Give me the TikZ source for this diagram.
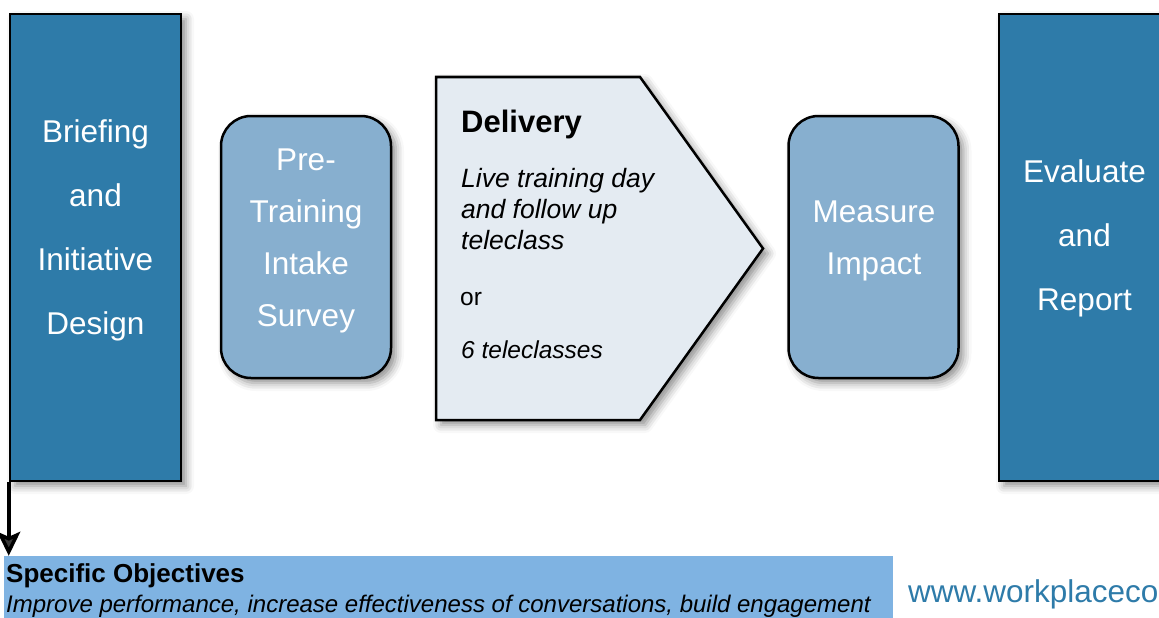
\documentclass[tikz,border=0pt]{standalone}
\usepackage{fontspec}
\setmainfont{Liberation Sans}
\usetikzlibrary{shadows.blur,arrows.meta}
\definecolor{darkbox}{HTML}{2E7BA9}
\definecolor{midbox}{HTML}{87AFCF}
\definecolor{lightbox}{HTML}{E4EBF2}
\definecolor{objbar}{HTML}{7FB3E2}
\definecolor{urlcol}{HTML}{2E7BA9}
\tikzset{
  shad/.style={blur shadow={shadow xshift=5pt, shadow yshift=-5pt, shadow blur radius=8pt, shadow opacity=45}},
  bigbox/.style={draw=black, line width=2.5pt, fill=darkbox, shad, minimum width=171pt, minimum height=467pt, inner sep=0pt},
  roundbox/.style={draw=black, line width=2.5pt, fill=midbox, shad, rounded corners=30pt, minimum width=170pt, minimum height=262pt, inner sep=0pt},
  boxtext/.style={text=white, inner sep=0pt, anchor=base, font=\fontsize{31.5}{36}\selectfont},
  deltext/.style={text=black, inner sep=0pt, anchor=base west},
  arrowline/.style={line width=3.5pt, -{Stealth[length=24pt, width=23pt, inset=5pt]}},
}
\begin{document}
\begin{tikzpicture}[x=1pt,y=-1pt]
\useasboundingbox (0,0) rectangle (1159,618);

% boxes
\node[bigbox] (brief) at (95.5,247.5) {};
\node[roundbox] (pre) at (306,247) {};
\draw[line width=2.5pt, fill=lightbox, shad] (436,77) -- (640,77) -- (763,248.5) -- (640,420) -- (436,420) -- cycle;
\coordinate (deliv) at (560,248.5);
\node[roundbox] (meas) at (873.5,247) {};
\node[bigbox] (eval) at (1084.5,247.5) {};

% box texts
\foreach \t/\y [count=\i] in {Briefing/142, and/206, Initiative/270, Design/334}
  \node[boxtext] (bt\i) at (95.5,\y) {\t};
\foreach \t/\y [count=\i] in {Pre-/170, Training/222, Intake/274, Survey/326}
  \node[boxtext] (pt\i) at (306,\y) {\t};
\foreach \t/\y [count=\i] in {Measure/222, Impact/274}
  \node[boxtext] (mt\i) at (874,\y) {\t};
\foreach \t/\y [count=\i] in {Evaluate/182, and/246, Report/310}
  \node[boxtext] (et\i) at (1084.5,\y) {\t};

% delivery texts
\node[deltext, font=\fontsize{31}{36}\selectfont\bfseries] (d1) at (461,132) {Delivery};
\foreach \t/\y [count=\i] in {Live training day/187, and follow up/218, teleclass/249}
  \node[deltext, font=\fontsize{26.5}{30}\selectfont\itshape] (dl\i) at (461,\y) {\t};
\node[deltext, font=\fontsize{24.5}{30}\selectfont] (dor) at (460,305) {or};
\node[deltext, font=\fontsize{24.5}{30}\selectfont\itshape] (dsix) at (461,358) {6 teleclasses};

% objectives bar
\node[fill=objbar, minimum width=889pt, minimum height=70pt, inner sep=0pt] (obj) at (448.5,591) {};
\node[deltext, font=\fontsize{26}{30}\selectfont\bfseries] (ot1) at (6,582) {Specific Objectives};
\node[deltext, font=\fontsize{24}{30}\selectfont\itshape] (ot2) at (6,612) {Improve performance, increase effectiveness of conversations, build engagement};

% url
\node[inner sep=0pt, anchor=base west, text=urlcol, font=\fontsize{31.5}{36}\selectfont] (url) at (908,602) {www.workplaceco};

% arrow
\draw[arrowline] (brief.south west) -- (brief.south west |- obj.north);
\end{tikzpicture}
\end{document}
